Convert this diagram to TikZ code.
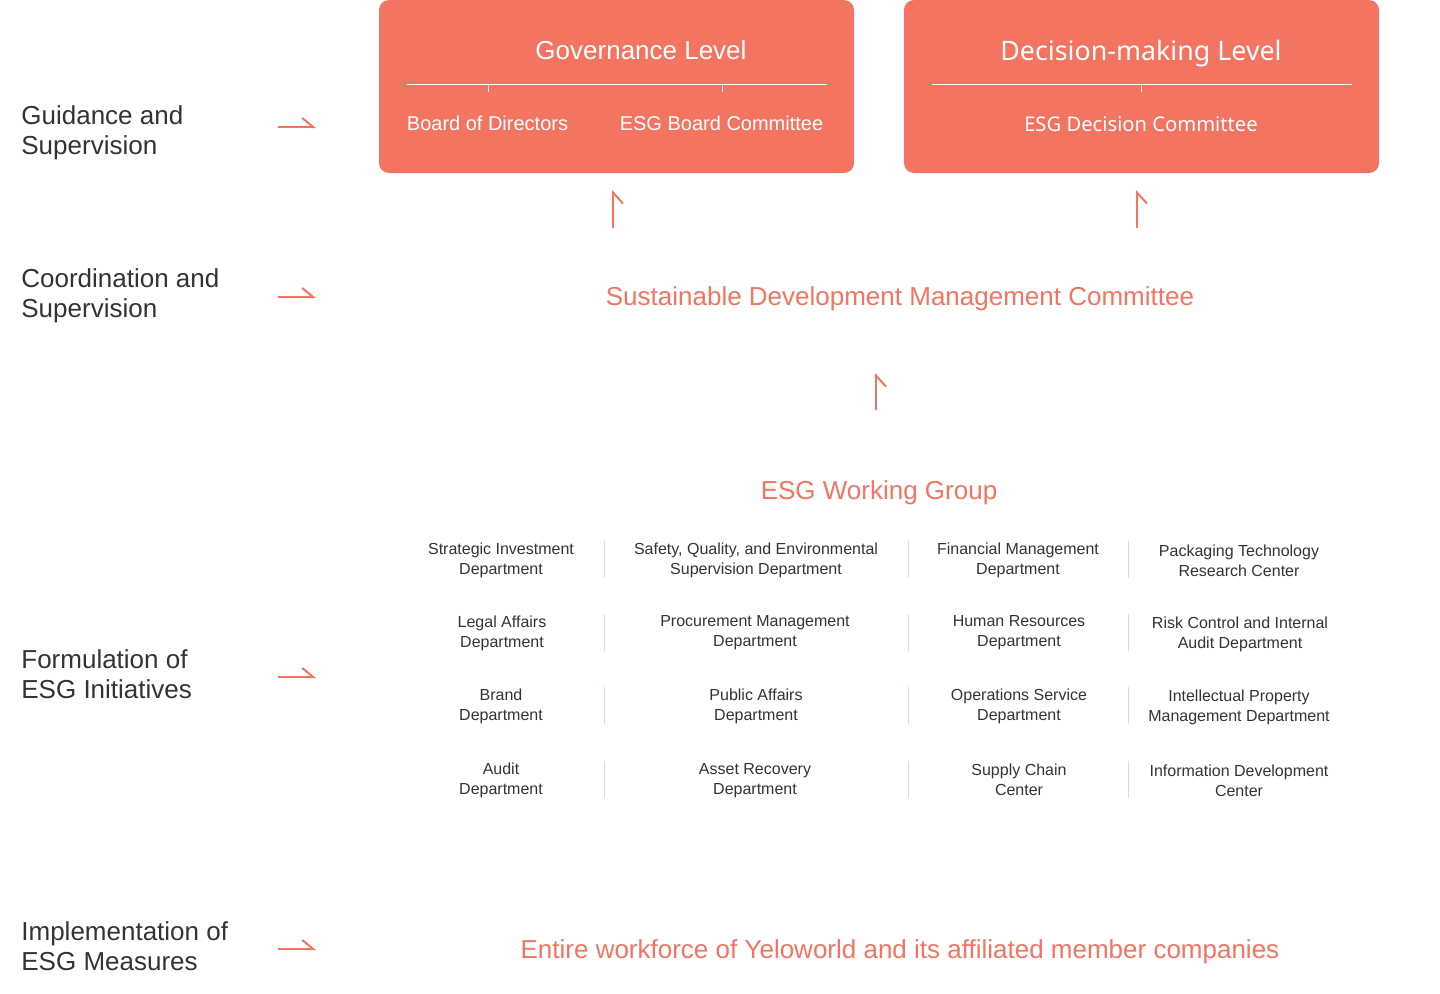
\documentclass[tikz,border=0pt]{standalone}
\usepackage{fontspec}
\setmainfont{Liberation Sans}
\newfontfamily\notosans{Noto Sans}
\usetikzlibrary{arrows.meta}
\definecolor{coral}{HTML}{F27461}
\definecolor{ink}{HTML}{333333}
\definecolor{divider}{HTML}{D5DDE6}
\begin{document}
\begin{tikzpicture}[x=0.5pt,y=-0.5pt,
	level/.style={fill=coral, rounded corners=5pt, inner sep=0pt, minimum width=237.5pt, minimum height=86.5pt},
	leveltitle/.style={text=white, inner sep=0pt, font=\fontsize{13}{15}\selectfont},
	member/.style={text=white, inner sep=0pt, font=\fontsize{10}{12}\selectfont},
	stage/.style={anchor=west, align=left, text=ink, inner sep=0pt, font=\fontsize{13}{15}\selectfont},
	heading/.style={text=coral, inner sep=0pt, font=\fontsize{13}{15}\selectfont},
	dept/.style={align=center, text=ink, inner sep=0pt, font=\fontsize{8}{10}\selectfont},
	harpr/.style={draw=coral, line width=1pt, -{Straight Barb[left, length=5.5pt, width=9pt]}},
	harpu/.style={draw=coral, line width=1pt, -{Straight Barb[right, length=5.5pt, width=10pt]}},
	sep/.style={draw=divider, line width=0.5pt}
]
	\useasboundingbox (0,0) rectangle (1440,993);

	% stages on the left
	\node[stage] (guide) at (21,133) {Guidance and\\Supervision};
	\node[stage] (coord) at (21,296) {Coordination and\\Supervision};
	\node[stage] (form) at (21,674) {Formulation of\\ESG Initiatives};
	\node[stage] (impl) at (21,946) {Implementation of\\ESG Measures};

	\coordinate (s1) at (278,127); \coordinate (e1) at (316,127);
	\coordinate (s2) at (278,297); \coordinate (e2) at (316,297);
	\coordinate (s3) at (278,677); \coordinate (e3) at (316,677);
	\coordinate (s4) at (278,949); \coordinate (e4) at (316,949);
	\draw[harpr] (s1) -- (e1);
	\draw[harpr] (s2) -- (e2);
	\draw[harpr] (s3) -- (e3);
	\draw[harpr] (s4) -- (e4);

	% governance level
	\node[level] (gov) at (616.5,86.5) {};
	\node[leveltitle] (govtitle) at (641,50) {Governance Level};
	\draw[white, line width=0.5pt] (407,84) -- (827,84);
	\draw[white, line width=0.5pt] (488,84) -- (488,92);
	\draw[white, line width=0.5pt] (722,84) -- (722,92);
	\node[member] (bod) at (487.5,123) {Board of Directors};
	\node[member] (esgbc) at (721.5,123) {ESG Board Committee};

	% decision-making level
	\node[level] (dec) at (1141.5,86.5) {};
	\node[leveltitle, font=\notosans\fontsize{13.4}{15}\selectfont] (dectitle) at (1141,54) {Decision-making Level};
	\draw[white, line width=0.5pt] (932,84) -- (1352,84);
	\draw[white, line width=0.5pt] (1141,84) -- (1141,92);
	\node[member, font=\notosans\fontsize{10.1}{12}\selectfont] (esgdc) at (1141,124) {ESG Decision Committee};

	\coordinate (g1) at (613,228); \coordinate (g2) at (613,190);
	\coordinate (d1) at (1137,228); \coordinate (d2) at (1137,190);
	\draw[harpu] (g1) -- (g2);
	\draw[harpu] (d1) -- (d2);

	% committee and working group
	\node[heading] (sdmc) at (900,299) {Sustainable Development Management Committee};
	\coordinate (w1) at (876,410); \coordinate (w2) at (876,373);
	\draw[harpu] (w1) -- (w2);
	\node[heading] (wg) at (879,493) {ESG Working Group};

	% departments
	\node[dept] (strat) at (501,560) {Strategic Investment\\Department};
	\node[dept] (safety) at (756,560) {Safety, Quality, and Environmental\\Supervision Department};
	\node[dept] (fin) at (1018,560) {Financial Management\\Department};
	\node[dept] (pack) at (1239,561) {Packaging Technology\\Research Center};

	\node[dept] (legal) at (502,633) {Legal Affairs\\Department};
	\node[dept] (proc) at (755,633) {Procurement Management\\Department};
	\node[dept] (hr) at (1019,633) {Human Resources\\Department};
	\node[dept] (risk) at (1240,634) {Risk Control and Internal\\Audit Department};

	\node[dept] (brand) at (501,706) {Brand\\Department};
	\node[dept] (public) at (756,706) {Public Affairs\\Department};
	\node[dept] (ops) at (1019,706) {Operations Service\\Department};
	\node[dept] (ip) at (1239,707) {Intellectual Property\\Management Department};

	\node[dept] (audit) at (501,780) {Audit\\Department};
	\node[dept] (asset) at (755,781) {Asset Recovery\\Department};
	\node[dept] (supply) at (1019,780) {Supply Chain\\Center};
	\node[dept] (info) at (1239,781) {Information Development\\Center};

	\draw[sep] (604,541) -- (604,578) (908,541) -- (908,578) (1128,541) -- (1128,578);
	\draw[sep] (604,614) -- (604,651) (908,614) -- (908,651) (1128,614) -- (1128,651);
	\draw[sep] (604,687) -- (604,724) (908,687) -- (908,724) (1128,687) -- (1128,724);
	\draw[sep] (604,761) -- (604,798) (908,761) -- (908,798) (1128,761) -- (1128,798);

	% everyone
	\node[heading] (workforce) at (900,952) {Entire workforce of Yeloworld and its affiliated member companies};
\end{tikzpicture}
\end{document}
